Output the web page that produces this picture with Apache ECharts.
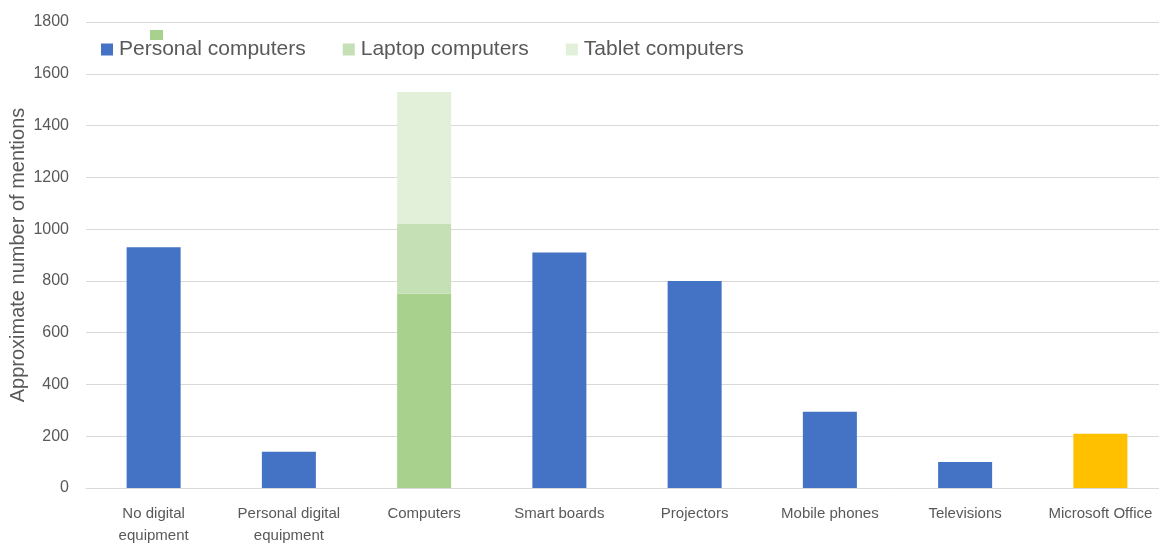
<!DOCTYPE html>
<html>
<head>
<meta charset="utf-8">
<script src="https://cdn.jsdelivr.net/npm/echarts@6/dist/echarts.min.js"></script>
<style>
  html, body { margin: 0; padding: 0; background: #ffffff; }
  #chart { width: 1159px; height: 545px; }
</style>
</head>
<body>
<div id="chart"></div>
<script>
// Categories along the x axis
const categories = [
  'No digital\nequipment',
  'Personal digital\nequipment',
  'Computers',
  'Smart boards',
  'Projectors',
  'Mobile phones',
  'Televisions',
  'Microsoft Office'
];

// Approximate number of mentions per category
const personalComputers = [930, 140, 750, 910, 800, 295, 100, 210];
const laptopComputers   = [null, null, 270, null, null, null, null, null];
const tabletComputers   = [null, null, 510, null, null, null, null, null];

// Y axis ticks
const yMax = 1800;
const yStep = 200;

const BLUE = '#4472c4';
const barColors = { 'Computers': '#a9d18e', 'Microsoft Office': '#ffc000' };
const textColor = '#595959';
const font = 'Liberation Sans, Arial, sans-serif';

const chart = echarts.init(document.getElementById('chart'), null, { renderer: 'canvas' });

chart.setOption({
  animation: false,
  backgroundColor: '#ffffff',
  textStyle: { fontFamily: font },
  grid: {
    left: 86, right: -9, top: 22, bottom: 57,
    containLabel: false,
    outerBoundsMode: 'none'
  },
  legend: {
    left: 96,
    top: 34,
    itemWidth: 12,
    itemHeight: 12,
    itemGap: 37,
    icon: 'rect',
    textStyle: { fontSize: 21, color: textColor, fontFamily: font, padding: [0, 0, 0, 1] },
    data: ['Personal computers', 'Laptop computers', 'Tablet computers']
  },
  xAxis: {
    type: 'category',
    data: categories,
    axisTick: { show: false },
    axisLine: { lineStyle: { color: '#d9d9d9', width: 1 } },
    axisLabel: { color: textColor, fontSize: 15, margin: 15, lineHeight: 22, interval: 0 }
  },
  yAxis: {
    type: 'value',
    min: 0,
    max: yMax,
    interval: yStep,
    name: 'Approximate number of mentions',
    nameLocation: 'middle',
    nameGap: 58,
    nameMoveOverlap: false,
    nameRotate: 90,
    nameTextStyle: { color: textColor, fontSize: 20 },
    axisLine: { show: false },
    axisTick: { show: false },
    axisLabel: { color: textColor, fontSize: 16, margin: 17, formatter: v => String(v) },
    splitLine: { lineStyle: { color: '#d9d9d9', width: 1 } }
  },
  series: [
    {
      name: 'Personal computers',
      type: 'bar',
      stack: 'total',
      barWidth: 54,
      color: BLUE,
      data: personalComputers,
      itemStyle: {
        color: p => barColors[categories[p.dataIndex]] || BLUE
      }
    },
    {
      name: 'Laptop computers',
      type: 'bar',
      stack: 'total',
      barWidth: 54,
      color: '#c5e0b4',
      data: laptopComputers
    },
    {
      name: 'Tablet computers',
      type: 'bar',
      stack: 'total',
      barWidth: 54,
      color: '#e2f0d9',
      data: tabletComputers
    }
  ],
  graphic: [
    {
      type: 'rect',
      left: 150,
      top: 30,
      shape: { width: 13, height: 10 },
      style: { fill: '#a9d18e' }
    }
  ]
});
</script>
</body>
</html>
